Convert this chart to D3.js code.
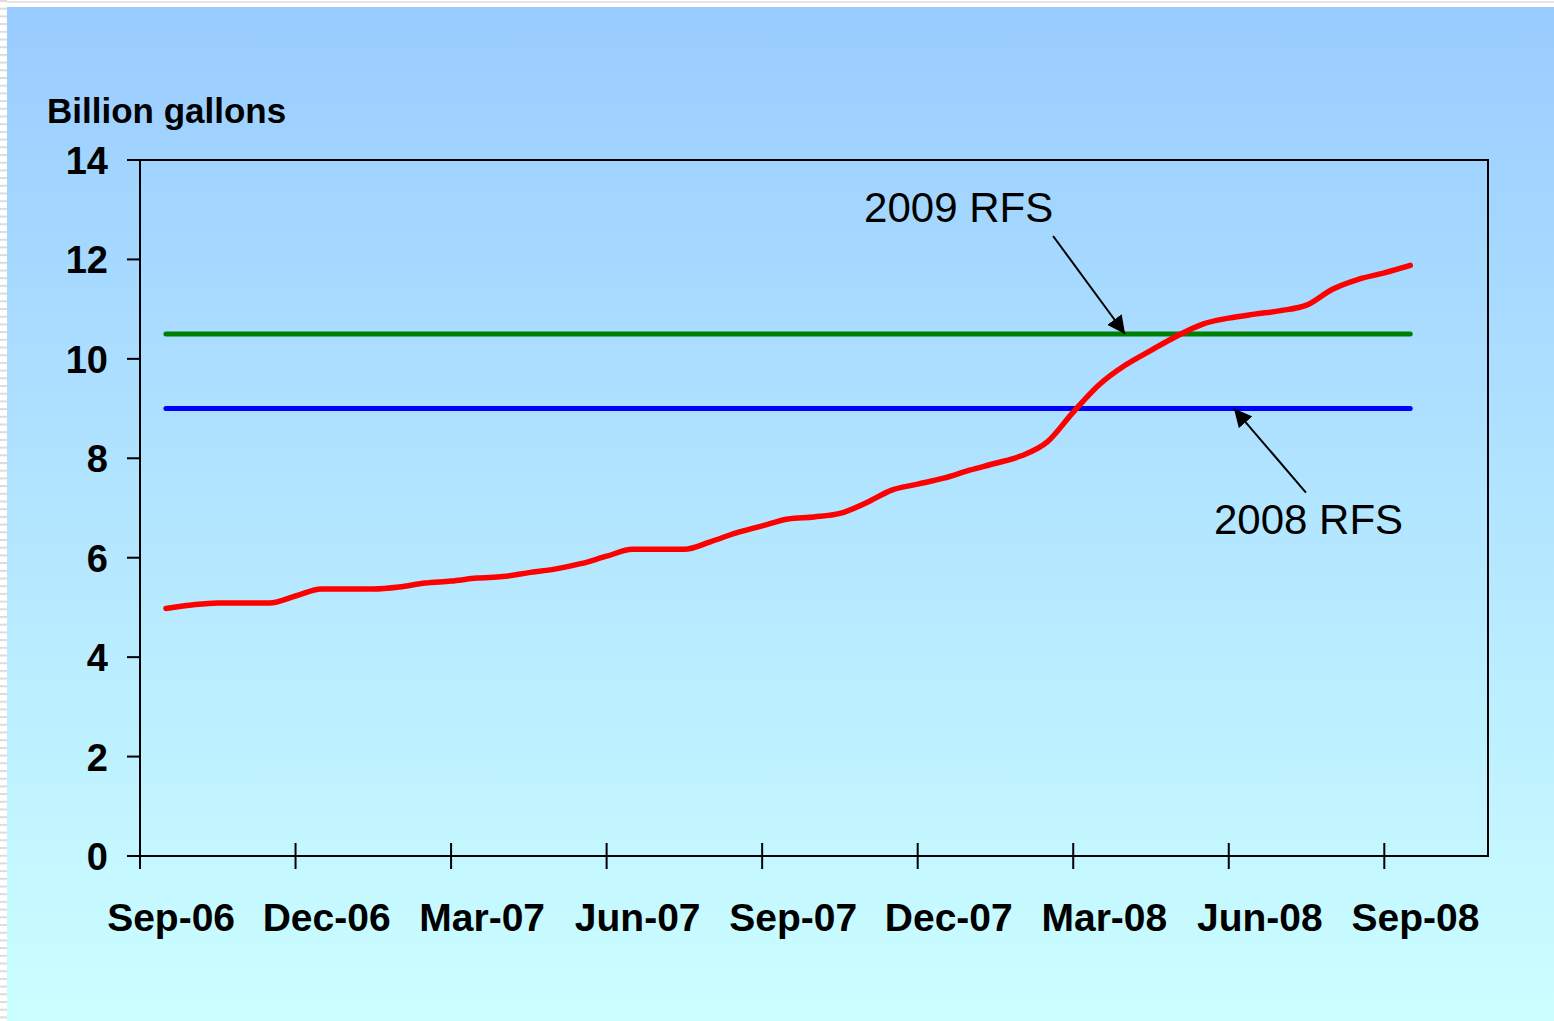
<!DOCTYPE html>
<head>
    <meta charset="utf-8">
    <title>Ethanol production vs RFS</title>
    <script src="https://cdn.jsdelivr.net/npm/d3@7"></script>
    <style>
      body { margin: 0; background: #fff; }
      text { font-family: Arial, "Liberation Sans", sans-serif; }
    </style>
</head>
<body>

  <div id="my_dataviz"></div>

  <script>

  // x tick labels, one every 3 months
  var monthLabels = ["Sep-06", "Dec-06", "Mar-07", "Jun-07", "Sep-07", "Dec-07", "Mar-08", "Jun-08", "Sep-08"];

  // production capacity, semi-monthly from Sep-06 to Sep-08 (billion gallons)
  var capacity = [4.98, 5.05, 5.09, 5.09, 5.09, 5.23, 5.37, 5.37, 5.37, 5.41,
                  5.49, 5.53, 5.59, 5.62, 5.70, 5.77, 5.88, 6.03, 6.17, 6.17,
                  6.17, 6.32, 6.50, 6.64, 6.78, 6.82, 6.89, 7.10, 7.36, 7.48,
                  7.60, 7.76, 7.90, 8.05, 8.33, 8.93, 9.48, 9.87, 10.17, 10.46,
                  10.70, 10.82, 10.90, 10.97, 11.08, 11.40, 11.60, 11.73, 11.88];

  // mandate levels
  var rfs2008 = 9.0;
  var rfs2009 = 10.5;

  var yTicks = [0, 2, 4, 6, 8, 10, 12, 14];

  var W = 1554, H = 1021;
  var margin = {top: 160, right: 66, bottom: 165, left: 140};
  var width = W - margin.left - margin.right;
  var height = H - margin.top - margin.bottom;

  var svg = d3.select("#my_dataviz")
    .append("svg")
      .attr("width", W)
      .attr("height", H);

  var defs = svg.append("defs");

  // background gradient
  var grad = defs.append("linearGradient")
      .attr("id", "bg")
      .attr("x1", 0).attr("y1", 0).attr("x2", 0).attr("y2", 1);
  grad.append("stop").attr("offset", "0%").attr("stop-color", "#99ccff");
  grad.append("stop").attr("offset", "100%").attr("stop-color", "#ccffff");

  // striped strip on the left edge
  var pat = defs.append("pattern")
      .attr("id", "stripes")
      .attr("patternUnits", "userSpaceOnUse")
      .attr("width", 8).attr("height", 7.7);
  pat.append("rect").attr("width", 8).attr("height", 7.7).attr("fill", "#fff");
  pat.append("rect").attr("y", 0).attr("width", 8).attr("height", 2).attr("fill", "#dcdcdc");

  svg.append("rect").attr("x", 0).attr("y", 0).attr("width", 7).attr("height", H).attr("fill", "url(#stripes)");
  svg.append("rect").attr("x", 7).attr("y", 1).attr("width", W).attr("height", 2).attr("fill", "#e6e6e6");
  svg.append("rect").attr("x", 7).attr("y", 7).attr("width", W - 7).attr("height", H - 7).attr("fill", "url(#bg)");

  var g = svg.append("g")
      .attr("transform", "translate(" + margin.left + "," + margin.top + ")");

  // x in months since start of Sep-06, 26 monthly slots
  var x = d3.scaleLinear()
    .domain([0, 26])
    .range([0, width]);

  var y = d3.scaleLinear()
    .domain([0, 14])
    .range([height, 0]);

  // semi-monthly point i sits at month i/2 + 0.5
  function px(i) { return x(i / 2 + 0.5); }

  // plot frame
  g.append("rect")
    .attr("width", width)
    .attr("height", height)
    .attr("fill", "none")
    .attr("stroke", "#000")
    .attr("stroke-width", 2);

  // y axis ticks and labels
  g.selectAll(".ytick")
    .data(yTicks)
    .enter()
    .append("line")
      .attr("x1", -13).attr("x2", 0)
      .attr("y1", function (d) { return y(d); })
      .attr("y2", function (d) { return y(d); })
      .attr("stroke", "#000")
      .attr("stroke-width", 2);

  g.selectAll(".ylab")
    .data(yTicks)
    .enter()
    .append("text")
      .attr("x", -32)
      .attr("y", function (d) { return y(d) + 14; })
      .attr("text-anchor", "end")
      .style("font-size", "38px")
      .style("font-weight", "bold")
      .text(function (d) { return d; });

  // x axis ticks and labels
  g.selectAll(".xtick")
    .data(monthLabels)
    .enter()
    .append("line")
      .attr("x1", function (d, i) { return x(i * 3); })
      .attr("x2", function (d, i) { return x(i * 3); })
      .attr("y1", height - 13).attr("y2", height + 13)
      .attr("stroke", "#000")
      .attr("stroke-width", 2);

  g.selectAll(".xlab")
    .data(monthLabels)
    .enter()
    .append("text")
      .attr("x", function (d, i) { return x(i * 3 + 0.6); })
      .attr("y", height + 75)
      .attr("text-anchor", "middle")
      .style("font-size", "39px")
      .style("font-weight", "bold")
      .text(function (d) { return d; });

  // axis title
  svg.append("text")
    .attr("x", 47)
    .attr("y", 123)
    .style("font-size", "35px")
    .style("font-weight", "bold")
    .text("Billion gallons");

  // RFS mandate lines
  var first = px(0), last = px(capacity.length - 1);

  g.append("line")
    .attr("x1", first).attr("x2", last)
    .attr("y1", y(rfs2009)).attr("y2", y(rfs2009))
    .attr("stroke", "#008000")
    .attr("stroke-width", 5)
    .attr("stroke-linecap", "round");

  g.append("line")
    .attr("x1", first).attr("x2", last)
    .attr("y1", y(rfs2008)).attr("y2", y(rfs2008))
    .attr("stroke", "#0000ff")
    .attr("stroke-width", 5)
    .attr("stroke-linecap", "round");

  // capacity line
  var line = d3.line()
    .x(function (d, i) { return px(i); })
    .y(function (d) { return y(d); })
    .curve(d3.curveMonotoneX);

  g.append("path")
    .datum(capacity)
    .attr("d", line)
    .attr("fill", "none")
    .attr("stroke", "#ff0000")
    .attr("stroke-width", 5.5)
    .attr("stroke-linecap", "round")
    .attr("stroke-linejoin", "round");

  // annotations
  defs.append("marker")
      .attr("id", "arrow")
      .attr("viewBox", "0 0 10 10")
      .attr("refX", 10).attr("refY", 5)
      .attr("markerWidth", 9).attr("markerHeight", 9)
      .attr("markerUnits", "strokeWidth")
      .attr("orient", "auto")
    .append("path")
      .attr("d", "M0,0 L10,5 L0,10 z")
      .attr("fill", "#000");

  var tip09 = [px(37), y(rfs2009)];
  var tip08 = [px(41.2), y(rfs2008)];

  g.append("line")
    .attr("x1", tip09[0] - 72).attr("y1", tip09[1] - 98)
    .attr("x2", tip09[0]).attr("y2", tip09[1])
    .attr("stroke", "#000").attr("stroke-width", 2)
    .attr("marker-end", "url(#arrow)");

  g.append("text")
    .attr("x", tip09[0] - 261)
    .attr("y", tip09[1] - 112)
    .style("font-size", "42px")
    .text("2009 RFS");

  g.append("line")
    .attr("x1", tip08[0] + 72).attr("y1", tip08[1] + 84)
    .attr("x2", tip08[0]).attr("y2", tip08[1])
    .attr("stroke", "#000").attr("stroke-width", 2)
    .attr("marker-end", "url(#arrow)");

  g.append("text")
    .attr("x", tip08[0] - 20)
    .attr("y", tip08[1] + 125)
    .style("font-size", "42px")
    .text("2008 RFS");

  </script>
</body>
